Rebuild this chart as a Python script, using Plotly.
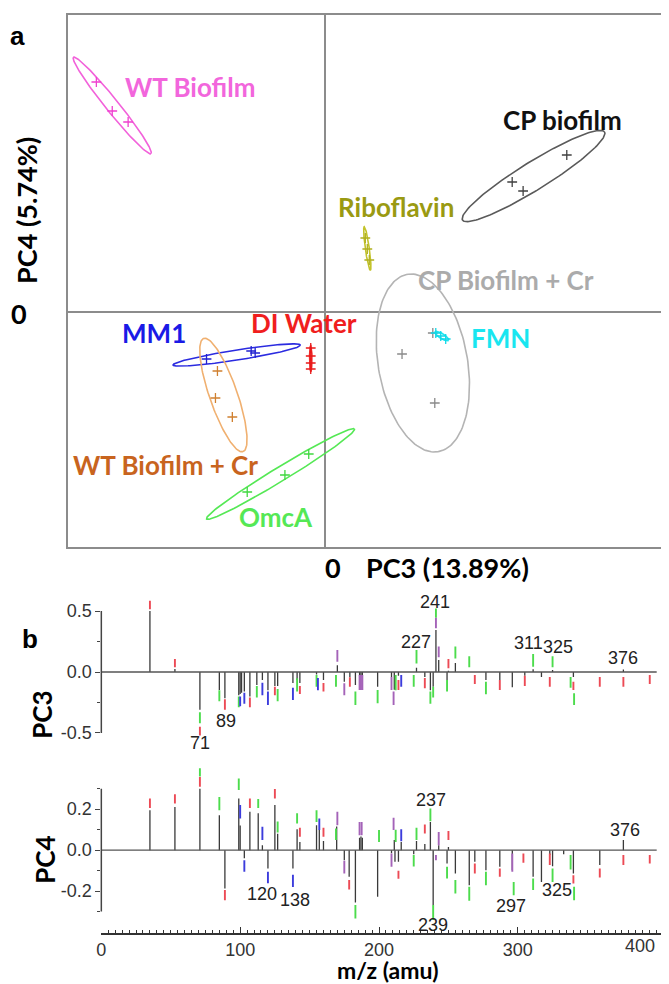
import numpy as np
import plotly.graph_objects as go

# ---------------- Panel a : PCA scores (PC3 vs PC4) ----------------
groups = ["WT Biofilm", "CP biofilm", "Riboflavin", "CP Biofilm + Cr", "FMN",
          "MM1", "DI Water", "WT Biofilm + Cr", "OmcA"]

wt_pc3 = [-2.30, -2.14, -1.98]
wt_pc4 = [2.30, 2.01, 1.90]
cp_pc3 = [1.89, 2.00, 2.44]
cp_pc4 = [1.30, 1.21, 1.57]
ribo_pc3 = [0.41, 0.43, 0.45]
ribo_pc4 = [0.74, 0.63, 0.52]
cpcr_pc3 = [0.78, 1.09, 1.11]
cpcr_pc4 = [-0.42, -0.21, -0.91]
fmn_pc3 = [1.12, 1.17, 1.22]
fmn_pc4 = [-0.21, -0.24, -0.27]
mm1_pc3 = [-1.19, -0.74, -0.70]
mm1_pc4 = [-0.47, -0.39, -0.41]
di_pc3 = [-0.14, -0.14, -0.14, -0.14]
di_pc4 = [-0.36, -0.44, -0.51, -0.57]
wtcr_pc3 = [-1.08, -1.10, -0.93]
wtcr_pc4 = [-0.59, -0.86, -1.05]
omca_pc3 = [-0.78, -0.40, -0.16]
omca_pc4 = [-1.80, -1.63, -1.42]

# confidence ellipses: centre, semi-axes, orientation (deg)
ell_cx = [-2.14, 2.105, 0.43, 0.99, 1.18, -0.885, -0.14, -1.02, -0.445]
ell_cy = [2.065, 1.36, 0.635, -0.51, -0.24, -0.43, -0.465, -0.83, -1.62]
ell_a = [0.62, 0.84, 0.22, 0.90, 0.08, 0.65, 0.13, 0.60, 0.87]
ell_b = [0.065, 0.14, 0.02, 0.45, 0.025, 0.05, 0.012, 0.14, 0.07]
ell_ang = [-51, 31.6, -82, -80, -32, 8.8, 90, -70.7, 31.1]

# label anchor positions (score units)
lab_x = [-1.355, 2.395, 0.72, 1.83, 1.775, -1.715, -0.21, -1.60, -0.495]
lab_y = [2.25, 1.92, 1.05, 0.32, -0.26, -0.21, -0.11, -1.53, -2.05]

# ---------------- Panel b : loadings ----------------
# black stems
pc3_mz = [35, 53, 71, 85, 89, 99, 100, 101, 103, 107, 112, 116, 120, 125, 127, 138, 141, 143,
          155, 160, 170, 175, 179, 183, 186, 187, 188, 199, 209, 211, 214, 227, 233, 237, 239,
          241, 243, 249, 250, 255, 277, 287, 296, 305, 311, 317, 325, 340, 376]
pc3_val = [0.50, 0.025, -0.31, -0.148, -0.216, -0.19, -0.18, -0.17, -0.16, -0.20, -0.107, -0.066,
           -0.15, -0.115, -0.115, -0.09, -0.066, -0.09, -0.02, -0.066, 0.056, -0.08, -0.044,
           -0.107, -0.03, -0.03, -0.03, -0.12, -0.04, -0.145, -0.03, 0.035, -0.04, -0.15, -0.12,
           0.344, 0.098, -0.066, 0.01, 0.073, -0.066, -0.066, -0.126, -0.03, 0.022, -0.04, 0.016,
           -0.04, 0.02]
# coloured segments
pc3_seg_mz = [35, 53, 71, 71, 85, 89, 99, 100, 103, 107, 112, 116, 120, 125, 127, 138, 141, 143,
              155, 156, 160, 169, 170, 175, 179, 183, 186, 187, 188, 199, 209, 210.5, 212, 214,
              216, 225, 227, 233, 237, 239, 241, 241, 243, 249, 250, 255, 265, 269, 277, 287,
              305, 311, 323, 325, 338, 340, 340.5, 359, 376, 395]
pc3_seg_lo = [0.515, 0.038, -0.42, -0.52, -0.24, -0.31, -0.29, -0.28, -0.26, -0.29, -0.21, -0.19,
              -0.27, -0.19, -0.24, -0.23, -0.16, -0.18, -0.12, -0.15, -0.16, -0.12, 0.085, -0.19,
              -0.12, -0.27, -0.148, -0.148, -0.148, -0.257, -0.148, -0.27, -0.15, -0.148, -0.12,
              -0.12, 0.07, -0.134, -0.26, -0.21, 0.358, 0.445, 0.12, -0.16, 0.03, 0.11, 0.038,
              -0.098, -0.183, -0.148, -0.115, 0.044, -0.12, 0.038, -0.13, -0.148, -0.27, -0.12,
              -0.12, -0.098]
pc3_seg_hi = [0.585, 0.106, -0.33, -0.45, -0.15, -0.224, -0.2, -0.2, -0.17, -0.21, -0.115, -0.088,
              -0.16, -0.12, -0.14, -0.13, -0.052, -0.115, -0.025, -0.05, -0.09, -0.025, 0.18,
              -0.093, -0.044, -0.16, -0.025, -0.025, -0.025, -0.148, -0.04, -0.16, -0.025, -0.066,
              -0.025, -0.025, 0.18, -0.05, -0.16, -0.12, 0.445, 0.52, 0.21, -0.066, 0.106, 0.21,
              0.13, -0.025, -0.08, -0.066, -0.03, 0.148, -0.04, 0.13, -0.04, -0.08, -0.175, -0.04,
              -0.04, -0.025]
pc3_seg_grp = ["r", "r", "g", "r", "g", "r", "g", "b", "b", "r", "g", "b", "b", "r", "g", "b", "g", "r",
               "g", "b", "r", "g", "p", "p", "r", "g", "p", "p", "p", "g", "p", "p", "g", "r",
               "b", "g", "g", "r", "g", "g", "p", "g", "p", "g", "r", "g", "g", "r", "g", "r",
               "r", "g", "r", "g", "g", "r", "g", "r", "r", "r"]

pc4_mz = [35, 53, 71, 85, 89, 99, 100, 103, 107, 113, 116, 120, 125, 127, 138, 141, 143, 155, 157,
          160, 169.5, 175, 178.5, 183, 186, 187, 188, 199, 209, 211, 211.5, 214, 216, 225, 227,
          233, 237, 239, 243, 249, 250, 255, 265, 269, 277, 287, 296, 311, 317, 323, 325, 333,
          340, 359, 376]
pc4_val = [0.195, 0.211, 0.30, 0.17, -0.187, 0.252, 0.12, -0.04, 0.187, 0.18, 0.024, -0.09, 0.22,
           0.08, -0.09, 0.102, 0.04, 0.122, 0.10, 0.045, 0.115, -0.049, -0.13, -0.255, 0.06,
           0.067, 0.06, -0.228, -0.015, 0.05, -0.057, -0.057, 0.04, -0.02, 0.045, 0.03, 0.138,
           -0.268, 0.024, -0.065, 0.015, -0.114, -0.171, -0.057, -0.098, -0.081, -0.098, -0.13,
           -0.155, -0.024, -0.078, -0.02, -0.114, -0.073, 0.049]
pc4_seg_mz = [35, 53, 71, 71, 85, 89, 99, 100, 103, 107, 113, 116, 120, 125, 127, 138, 141, 143,
              155, 157, 160, 169, 170, 175, 178.5, 183, 186, 187.5, 200, 209, 210.5, 212, 214,
              216, 225, 227, 233, 237, 239, 241, 243, 249, 250, 255, 265, 269, 277, 287, 296, 297,
              304, 311, 323, 325, 338, 340, 340.5, 359, 376, 395]
pc4_seg_lo = [0.206, 0.228, 0.309, 0.36, 0.195, -0.244, 0.293, 0.155, -0.106, 0.206, 0.206, 0.049,
              -0.162, 0.252, 0.086, -0.18, 0.13, 0.065, 0.138, 0.098, 0.065, 0.049, 0.122, -0.114,
              -0.192, -0.333, 0.073, 0.073, 0.04, -0.081, 0.098, 0.04, -0.14, 0.044, -0.08, 0.049,
              0.081, 0.141, -0.341, -0.049, 0.024, -0.138, 0.049, -0.211, -0.247, -0.114, -0.171,
              -0.13, -0.106, -0.22, -0.062, -0.195, -0.073, -0.155, -0.094, -0.163, -0.244, -0.133,
              -0.073, -0.065]
pc4_seg_hi = [0.252, 0.273, 0.357, 0.40, 0.26, -0.195, 0.35, 0.22, -0.049, 0.252, 0.25, 0.114,
              -0.106, 0.298, 0.14, -0.12, 0.18, 0.109, 0.195, 0.155, 0.109, 0.106, 0.187, -0.052,
              -0.146, -0.268, 0.138, 0.138, 0.098, -0.016, 0.158, 0.10, -0.10, 0.102, -0.024, 0.109,
              0.125, 0.203, -0.268, -0.024, 0.089, -0.081, 0.094, -0.146, -0.179, -0.065, -0.106,
              -0.089, -0.016, -0.155, -0.016, -0.138, -0.016, -0.089, -0.024, -0.122, -0.179,
              -0.089, -0.024, -0.024]
pc4_seg_grp = ["r", "r", "r", "g", "g", "r", "g", "b", "b", "r", "g", "b", "b", "r", "g", "b", "g", "r",
               "g", "b", "r", "g", "p", "p", "r", "g", "p", "p", "g", "p", "p", "g", "r",
               "b", "g", "g", "r", "g", "g", "p", "p", "g", "r", "g", "g", "r", "g", "r", "p", "g",
               "r", "g", "r", "g", "g", "r", "g", "r", "r", "r"]

pc3_peak_lab = ["71", "89", "227", "241", "311", "325", "376"]
pc3_peak_x = [71, 90, 227, 240.6, 307.8, 329.2, 375.7]
pc3_peak_y = [-0.58, -0.40, 0.246, 0.574, 0.238, 0.205, 0.115]
pc4_peak_lab = ["120", "138", "237", "376", "297", "325", "239"]
pc4_peak_x = [116, 139.8, 237.3, 377.1, 294.9, 328.3, 239]
pc4_peak_y = [-0.215, -0.241, 0.244, 0.098, -0.272, -0.195, -0.366]

mz_ticks = [0, 100, 200, 300, 400]

# ---------------- styling ----------------
PAGE_W, PAGE_H = 669, 984
OFF = 8                      # default page margin in front of the figure
W, H = PAGE_W - OFF, PAGE_H - OFF
grp_line = ["#f262da", "#5a5a5a", "#c3c32a", "#b4b4b4", "#1ee6f0", "#2b2be0", "#f02828", "#f0b070", "#55e855"]
grp_pt = ["#f040d0", "#404040", "#b0b020", "#8a8a8a", "#10d8e8", "#2020d0", "#e81818", "#d08030", "#40d840"]
grp_lab = ["#f266dc", "#111111", "#9a9a12", "#ababab", "#19e6f0", "#1a1ae6", "#f01e1e", "#c8641e", "#55e855"]
seg_col = {"r": "#ec4a55", "g": "#4cdc4c", "b": "#3c3cdc", "p": "#a463b8"}
LAB_FONT = "Lato, Open Sans, sans-serif"
TICK_FONT = "Liberation Sans, Arial, sans-serif"


def px_x(p):
    return (p - OFF) / W


def px_y(p):
    return 1 - (p - OFF) / H


fig = go.Figure()

scores_pc3 = [wt_pc3, cp_pc3, ribo_pc3, cpcr_pc3, fmn_pc3, mm1_pc3, di_pc3, wtcr_pc3, omca_pc3]
scores_pc4 = [wt_pc4, cp_pc4, ribo_pc4, cpcr_pc4, fmn_pc4, mm1_pc4, di_pc4, wtcr_pc4, omca_pc4]

t = np.linspace(0, 2 * np.pi, 160)
for i, g in enumerate(groups):
    th = np.deg2rad(ell_ang[i])
    ex = ell_cx[i] + ell_a[i] * np.cos(t) * np.cos(th) - ell_b[i] * np.sin(t) * np.sin(th)
    ey = ell_cy[i] + ell_a[i] * np.cos(t) * np.sin(th) + ell_b[i] * np.sin(t) * np.cos(th)
    fig.add_trace(go.Scatter(x=ex, y=ey, mode="lines", line=dict(color=grp_line[i], width=1.6),
                             xaxis="x", yaxis="y", showlegend=False, hoverinfo="skip"))
    fig.add_trace(go.Scatter(x=scores_pc3[i], y=scores_pc4[i], mode="markers", name=g,
                             marker=dict(symbol="cross-thin", size=7,
                                         line=dict(color=grp_pt[i], width=1.3)),
                             xaxis="x", yaxis="y", showlegend=False))
    fig.add_annotation(x=lab_x[i], y=lab_y[i], xref="x", yref="y", text=g, showarrow=False,
                       font=dict(family=LAB_FONT, size=26, color=grp_lab[i], weight="bold"))


def stems(mz, val):
    xs, ys = [], []
    for m, v in zip(mz, val):
        xs += [m, m, None]
        ys += [0, v, None]
    return xs, ys


def add_loadings(mz, val, smz, slo, shi, sgrp, xa, ya):
    xs, ys = stems(mz, val)
    fig.add_trace(go.Scatter(x=xs, y=ys, mode="lines", line=dict(color="#3a3a3a", width=1.3),
                             xaxis=xa, yaxis=ya, showlegend=False, hoverinfo="skip"))
    for key, col in seg_col.items():
        xs, ys = [], []
        for m, lo, hi, gg in zip(smz, slo, shi, sgrp):
            if gg == key:
                xs += [m, m, None]
                ys += [lo, hi, None]
        fig.add_trace(go.Scatter(x=xs, y=ys, mode="lines", line=dict(color=col, width=1.9),
                                 xaxis=xa, yaxis=ya, showlegend=False, hoverinfo="skip"))


add_loadings(pc3_mz, pc3_val, pc3_seg_mz, pc3_seg_lo, pc3_seg_hi, pc3_seg_grp, "x2", "y2")
add_loadings(pc4_mz, pc4_val, pc4_seg_mz, pc4_seg_lo, pc4_seg_hi, pc4_seg_grp, "x3", "y3")

for lab, x, y in zip(pc3_peak_lab, pc3_peak_x, pc3_peak_y):
    fig.add_annotation(x=x, y=y, xref="x2", yref="y2", text=lab, showarrow=False,
                       font=dict(family=TICK_FONT, size=18, color="#222"))
for lab, x, y in zip(pc4_peak_lab, pc4_peak_x, pc4_peak_y):
    fig.add_annotation(x=x, y=y, xref="x3", yref="y3", text=lab, showarrow=False,
                       font=dict(family=TICK_FONT, size=18, color="#222"))

# zero lines and partial y-axis lines of the loading plots
for ya, lim in (("y2", 0.5), ("y3", 0.3)):
    xa = "x2" if ya == "y2" else "x3"
    fig.add_shape(type="line", xref=xa, yref=ya, x0=0, x1=mz_ticks[-1], y0=0, y1=0,
                  line=dict(color="#555", width=1.3))
    fig.add_shape(type="line", xref=xa + " domain", yref=ya, x0=0, x1=0, y0=-lim, y1=lim,
                  line=dict(color="#444", width=1.5))

# last m/z tick label sits right-aligned at its tick (as in the original figure)
fig.add_annotation(x=mz_ticks[-1], y=px_y(946), xref="x3", yref="paper", text=str(mz_ticks[-1]),
                   showarrow=False, xanchor="right", yanchor="middle",
                   font=dict(family=TICK_FONT, size=18, color="#333"))

# panel/axis text
txt = [
    ("a", 13, 36, 26, "Liberation Sans, Arial", 0),
    ("PC4 (5.74%)", 22, 210, 27, LAB_FONT, -90),
    ("0", 14, 313, 27, LAB_FONT, 0),
    ("0", 330, 567, 27, LAB_FONT, 0),
    ("PC3 (13.89%)", 446, 567, 27, LAB_FONT, 0),
    ("b", 25, 639, 26, "Liberation Sans, Arial", 0),
    ("PC3", 37, 715, 26, LAB_FONT, -90),
    ("PC4", 40, 860, 26, LAB_FONT, -90),
    ("m/z (amu)", 386, 970, 23, LAB_FONT, 0),
]
for s, x, y, sz, fam, ang in txt:
    fig.add_annotation(x=px_x(x), y=px_y(y), xref="paper", yref="paper", text=s, showarrow=False,
                       textangle=ang, xanchor="center", yanchor="middle",
                       font=dict(family=fam, size=sz, color="#000", weight="bold"))

tickfont = dict(family=TICK_FONT, size=18, color="#333")
fig.update_layout(
    width=W, height=H, margin=dict(l=0, r=0, t=0, b=0),
    paper_bgcolor="white", plot_bgcolor="white",
    xaxis=dict(domain=[px_x(63), px_x(667)], range=[-2.59, 3.45], showgrid=False,
               showticklabels=False, ticks="", showline=True, mirror=True, linecolor="#8c8c8c",
               linewidth=2, zeroline=True, zerolinecolor="#8c8c8c", zerolinewidth=1.6),
    yaxis=dict(domain=[px_y(547), px_y(15)], range=[-2.35, 2.97], showgrid=False,
               showticklabels=False, ticks="", showline=True, mirror=True, linecolor="#8c8c8c",
               linewidth=2, zeroline=True, zerolinecolor="#8c8c8c", zerolinewidth=1.6),
    xaxis2=dict(domain=[px_x(97), px_x(665)], range=[0, 406], matches="x3", anchor="y2",
                showgrid=False, showticklabels=False, ticks="", showline=False, zeroline=False),
    yaxis2=dict(domain=[px_y(747.6), px_y(596.4)], range=[-0.62, 0.62], anchor="x2",
                showgrid=False, zeroline=False, showline=False, ticks="outside", ticklen=5,
                tickcolor="#444", tickwidth=1.3, tickvals=[-0.5, 0, 0.5],
                ticktext=["-0.5", "0.0", "0.5"], tickfont=tickfont,
                minor=dict(tickvals=[-0.25, 0.25], ticks="outside", ticklen=3, tickcolor="#444")),
    xaxis3=dict(domain=[px_x(97), px_x(665)], range=[0, 406], anchor="y3", showgrid=False,
                zeroline=False, showline=True, linecolor="#333", linewidth=1.5,
                ticks="inside", ticklen=6, tickcolor="#333", tickwidth=1.3,
                tickvals=mz_ticks[:-1], ticktext=[str(v) for v in mz_ticks[:-1]],
                tickfont=dict(family=TICK_FONT, size=18, color="#333"),
                minor=dict(dtick=5, tick0=0, ticks="inside", ticklen=3, tickcolor="#333")),
    yaxis3=dict(domain=[px_y(932.8), px_y(760)], range=[-0.4034, 0.44], anchor="x3",
                showgrid=False, zeroline=False, showline=False, ticks="outside", ticklen=5,
                tickcolor="#444", tickwidth=1.3, tickvals=[-0.2, 0, 0.2],
                ticktext=["-0.2", "0.0", "0.2"], tickfont=tickfont,
                minor=dict(tickvals=[-0.3, -0.1, 0.1, 0.3], ticks="outside", ticklen=3,
                           tickcolor="#444")),
)

fig.write_html("out.html")
